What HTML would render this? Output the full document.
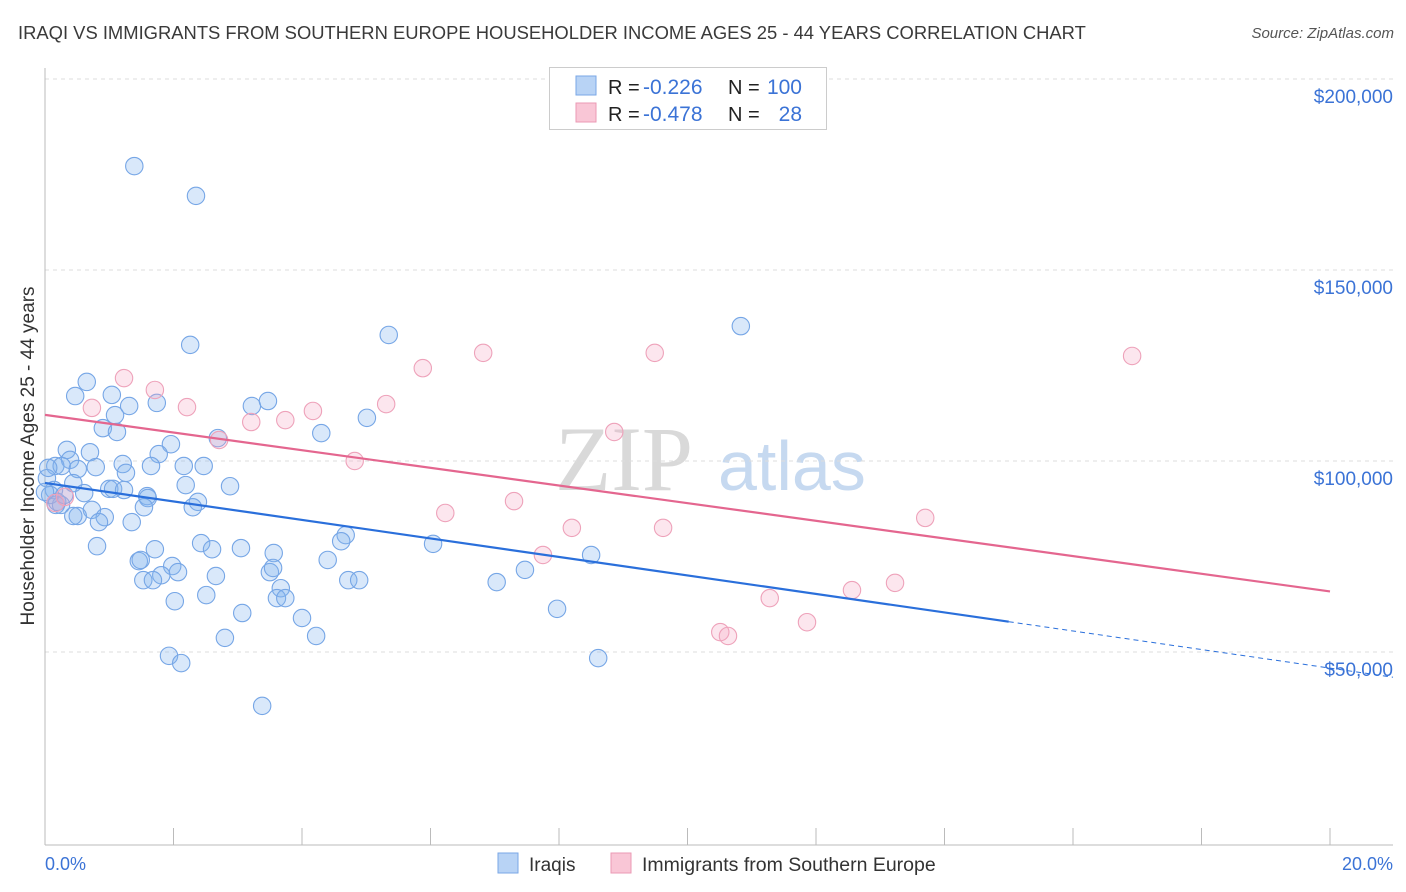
<!DOCTYPE html>
<html><head><meta charset="utf-8"><style>
body{margin:0;background:#fff;font-family:"Liberation Sans",sans-serif;}
#wrap{position:relative;width:1406px;height:892px;overflow:hidden;}
.t{position:absolute;white-space:nowrap;}
</style></head><body>
<div id="wrap">
<div class="t" style="left:18px;top:22px;font-size:18.4px;color:#3a3a3a;">IRAQI VS IMMIGRANTS FROM SOUTHERN EUROPE HOUSEHOLDER INCOME AGES 25 - 44 YEARS CORRELATION CHART</div>
<div class="t" style="right:12px;top:25px;font-size:15px;color:#555;font-style:italic;">Source: ZipAtlas.com</div>
<svg id="svg" width="1406" height="892" style="position:absolute;left:0;top:0"></svg>
</div>
<script>
const xTicks=[0,2,4,6,8,10,12,14,16,18,20];
const yTicks=[50000,100000,150000,200000];
const yTickLabels=["$50,000","$100,000","$150,000","$200,000"];
const iraqiX=[1.39,2.35,2.26,5.35,10.83,0.65,0.47,1.04,1.74,1.31,1.09,3.22,3.47,5.01,0.90,1.12,4.30,1.96,2.69,0.34,0.70,1.77,0.39,0.16,0.26,0.51,0.79,1.21,1.65,2.16,2.47,1.26,0.03,0.44,2.19,2.88,1.00,1.06,1.23,0.61,0.14,1.59,1.60,2.38,2.30,0.17,1.54,0.25,0.73,0.93,0.51,1.35,0.84,6.04,0.81,1.71,2.43,2.60,3.05,4.68,4.61,3.56,4.40,1.46,1.49,1.98,2.07,1.81,3.50,3.55,2.66,1.53,1.68,4.72,4.89,7.47,7.03,8.50,3.67,3.61,3.74,2.51,2.02,3.07,4.00,7.97,2.80,4.22,1.93,2.12,8.61,3.38,0.05,0.08,0.19,0.0,0.30,0.44];
const iraqiY=[177.2,169.4,130.4,133.0,135.3,120.7,117.0,117.3,115.2,114.4,112.0,114.4,115.7,111.3,108.6,107.6,107.3,104.4,106.0,102.9,102.3,101.8,100.3,98.7,98.7,97.9,98.4,99.2,98.7,98.7,98.7,96.9,95.5,94.2,93.7,93.4,92.7,92.7,92.4,91.6,92.4,90.8,90.3,89.3,87.9,88.5,87.9,88.5,87.2,85.3,85.6,84.0,84.0,78.3,77.7,76.9,78.5,76.9,77.2,80.6,79.0,75.9,74.1,73.8,74.1,72.5,70.9,70.1,70.9,72.0,69.9,68.8,68.8,68.8,68.8,71.5,68.3,75.4,66.7,64.1,64.1,64.9,63.3,60.2,58.9,61.3,53.7,54.2,49.0,47.1,48.4,35.9,98.2,91.1,89.3,91.9,91.1,85.6];
const seX=[1.23,1.71,0.73,2.21,3.21,3.74,4.17,5.31,5.88,6.82,9.49,16.92,2.71,4.82,6.23,7.30,8.20,8.86,9.62,7.75,13.70,11.28,13.23,12.56,11.86,10.51,10.63,0.16,0.31];
const seY=[121.7,118.6,113.9,114.1,110.2,110.7,113.1,114.9,124.3,128.3,128.3,127.5,105.5,100.0,86.4,89.5,82.5,107.6,82.5,75.4,85.1,64.1,68.1,66.2,57.8,55.2,54.2,89.0,90.6];
const NS="http://www.w3.org/2000/svg";
const svg=document.getElementById('svg');
function X(p){return 45+p*64.25;}
function Y(v){return 79+(200000-v)*191/50000;}
function el(t,a){const e=document.createElementNS(NS,t);for(const k in a)e.setAttribute(k,a[k]);svg.appendChild(e);return e;}
function txt(x,y,s,o){const e=el('text',Object.assign({x:x,y:y,'font-family':'Liberation Sans, sans-serif'},o));e.textContent=s;return e;}
let w=txt(555,490,'ZIP',{'font-size':92,'font-family':'Liberation Serif, serif',fill:'#d9d9d9'});


w=txt(718,490,'atlas',{'font-size':70,fill:'#c6d9f0'});


yTicks.forEach((v,i)=>{
  const g=el('line',{x1:45,x2:1393,y1:Y(v),y2:Y(v),stroke:'#ddd','stroke-dasharray':'4,4'});
  
  
  const t=txt(1393,Y(v)+24,yTickLabels[i],{'font-size':19,fill:'#3b73d6','text-anchor':'end'});
  
  
});
let ax=el('line',{x1:45,x2:45,y1:68,y2:845,stroke:'#bbb'});


ax=el('line',{x1:45,x2:1393,y1:845,y2:845,stroke:'#bbb'});


xTicks.forEach(p=>{const l=el('line',{x1:X(p),x2:X(p),y1:828,y2:845,stroke:'#bbb'});

});
function pts(xs,ys,fill,stroke,name){xs.forEach((x,i)=>{const c=el('circle',{cx:X(x),cy:Y(ys[i]*1000),r:8.7,fill:fill,stroke:stroke,'stroke-width':1.1});

});}
pts(iraqiX,iraqiY,'rgba(130,178,238,0.3)','#76a6e6','iraqi-point');
pts(seX,seY,'rgba(245,165,195,0.28)','#eea2ba','se-point');
function reg(xs,ys){const n=xs.length;let mx=0,my=0;xs.forEach((x,i)=>{mx+=x;my+=ys[i];});mx/=n;my/=n;let sxy=0,sxx=0;xs.forEach((x,i)=>{sxy+=(x-mx)*(ys[i]-my);sxx+=(x-mx)*(x-mx);});const b=sxy/sxx;return [my-b*mx,b];}
let [a,b]=reg(iraqiX,iraqiY);
let ln=el('line',{x1:X(0),y1:Y(a*1000),x2:X(15),y2:Y((a+b*15)*1000),stroke:'#2a6fdb','stroke-width':2.2});


ln=el('line',{x1:X(15),y1:Y((a+b*15)*1000),x2:1393,y2:Y((a+b*21)*1000),stroke:'#2a6fdb','stroke-width':1,'stroke-dasharray':'5,4'});


[a,b]=reg(seX,seY);
ln=el('line',{x1:X(0),y1:Y(a*1000),x2:X(20),y2:Y((a+b*20)*1000),stroke:'#e4668f','stroke-width':2.2});


let t=txt(45,870,'0.0%',{'font-size':18,fill:'#3b73d6'});


t=txt(1393,870,'20.0%',{'font-size':18,fill:'#3b73d6','text-anchor':'end'});


t=txt(0,0,'Householder Income Ages 25 - 44 years',{'font-size':19,fill:'#333','text-anchor':'middle',transform:'translate(34,456) rotate(-90)'});


let r=el('rect',{x:549.5,y:67.5,width:277,height:62,fill:'#fff',stroke:'#ccc'});


el('rect',{x:576,y:76,width:20,height:19,fill:'#b8d3f5',stroke:'#7aa7e6'});
el('rect',{x:576,y:103,width:20,height:19,fill:'#f9c6d6',stroke:'#eb9ab4'});
[[94,'-0.226','100'],[121,'-0.478','28']].forEach(([y,rv,nv])=>{
 txt(608,y,'R = ',{'font-size':20,fill:'#222'});
 txt(643,y,rv,{'font-size':21,fill:'#3b73d6'});
 txt(728,y,'N = ',{'font-size':20,fill:'#222'});
 txt(802,y,nv,{'font-size':21,fill:'#3b73d6','text-anchor':'end'});
});
r=el('rect',{x:498,y:853,width:20,height:20,fill:'#b8d3f5',stroke:'#7aa7e6'});


t=txt(529,871,'Iraqis',{'font-size':19,fill:'#333'});


r=el('rect',{x:611,y:853,width:20,height:20,fill:'#f9c6d6',stroke:'#eb9ab4'});


t=txt(642,871,'Immigrants from Southern Europe',{'font-size':19.5,fill:'#333'});


</script>
</body></html>
